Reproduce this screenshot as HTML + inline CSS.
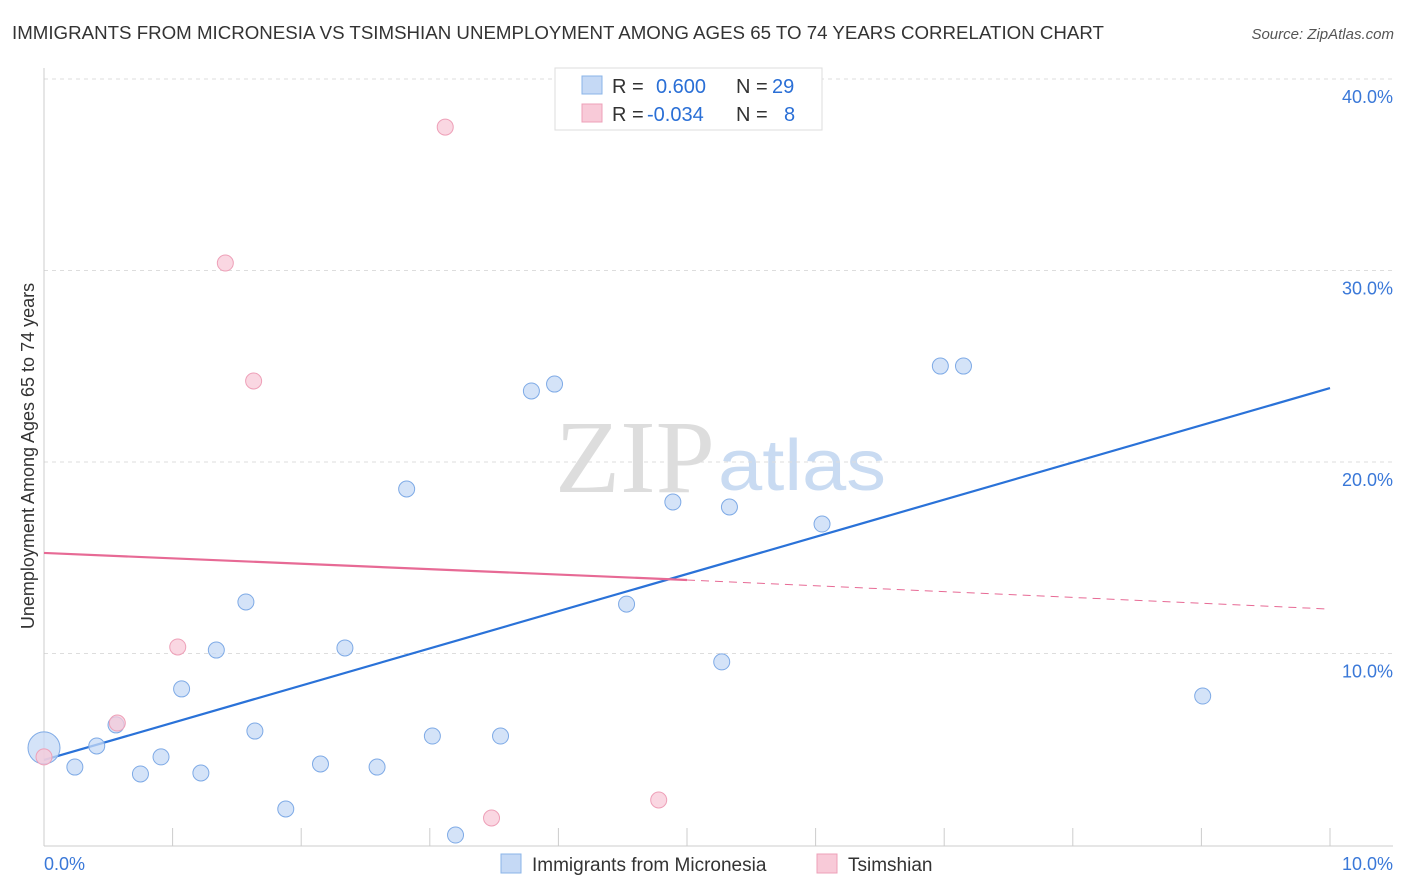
<!DOCTYPE html>
<html><head><meta charset="utf-8"><style>
body{margin:0;background:#fff;font-family:"Liberation Sans",sans-serif;}
svg{display:block}
</style></head><body>
<svg id="chart" width="1406" height="892">
<text x="12" y="39" font-size="18.5" fill="#333" textLength="1092" lengthAdjust="spacingAndGlyphs">IMMIGRANTS FROM MICRONESIA VS TSIMSHIAN UNEMPLOYMENT AMONG AGES 65 TO 74 YEARS CORRELATION CHART</text>
<text x="1394" y="39" font-size="15" fill="#555" font-style="italic" text-anchor="end">Source: ZipAtlas.com</text>
<text x="555" y="492" font-size="104" fill="#ddd" textLength="160" lengthAdjust="spacingAndGlyphs" font-family="Liberation Serif,serif">ZIP</text>
<text x="718" y="490" font-size="72" fill="#c9dbf2" textLength="168" lengthAdjust="spacingAndGlyphs">atlas</text>
<g id="grid"></g><g id="axes"></g><g id="lines"></g><g id="points"></g>
<text transform="translate(34,456) rotate(-90)" font-size="18" fill="#333" text-anchor="middle">Unemployment Among Ages 65 to 74 years</text>
<g>
<rect x="555" y="68" width="267" height="62" fill="#fff" stroke="#ddd"/>
<rect x="582" y="76" width="20" height="18" fill="#c5d9f5" stroke="#8ab4e8"/>
<rect x="582" y="104" width="20" height="18" fill="#f8cad8" stroke="#eea0b8"/>
<text x="612" y="93" font-size="20" fill="#333">R = <tspan x="656" fill="#2a6fd6">0.600</tspan><tspan x="736">N = </tspan><tspan x="772" fill="#2a6fd6">29</tspan></text>
<text x="612" y="121" font-size="20" fill="#333">R = <tspan x="647" fill="#2a6fd6">-0.034</tspan><tspan x="736">N = </tspan><tspan x="784" fill="#2a6fd6">8</tspan></text>
</g>
<g>
<rect x="501" y="854" width="20" height="19" fill="#c5d9f5" stroke="#8ab4e8"/>
<text x="532" y="871" font-size="19" fill="#333">Immigrants from Micronesia</text>
<rect x="817" y="854" width="20" height="19" fill="#f8cad8" stroke="#eea0b8"/>
<text x="848" y="871" font-size="19" fill="#333">Tsimshian</text>
</g>
</svg>
<script>
const blueX=[0,0.24,0.41,0.56,0.75,0.91,1.07,1.22,1.34,1.57,1.64,1.88,2.15,2.34,2.59,2.82,3.02,3.20,3.55,3.79,3.97,4.53,4.89,5.33,5.27,6.05,6.97,7.15,9.01];
const blueY=[5.07,4.07,5.17,6.27,3.71,4.60,8.15,3.76,10.18,12.69,5.95,1.88,4.23,10.29,4.07,18.59,5.69,0.52,5.69,23.71,24.07,12.58,17.91,17.65,9.56,16.76,25.01,25.01,7.78];
const pinkX=[0,0.57,1.04,1.41,1.63,3.12,3.48,4.78];
const pinkY=[4.60,6.37,10.34,30.39,24.23,37.49,1.41,2.35];
const blueLine=[[0,4.44],[10,23.86]];
const pinkLine=[[0,15.25],[5.0,13.84],[10,12.32]];
const yTicks=[10,20,30,40];
const xTickLabels=["0.0%","10.0%"];
const NS="http://www.w3.org/2000/svg";
const sx=v=>44+v*128.6, sy=v=>845-v*19.15;
function mk(tag,attrs,parent){const e=document.createElementNS(NS,tag);for(const k in attrs)e.setAttribute(k,attrs[k]);document.getElementById(parent).appendChild(e);return e;}
yTicks.forEach(t=>{
 const l=mk('line',{x1:44,x2:1393,y1:sy(t),y2:sy(t),stroke:'#ddd','stroke-dasharray':'4,4'},'grid');
 
 
 const tx=mk('text',{x:1393,y:sy(t)+24,'font-size':18,fill:'#3a78d8','text-anchor':'end'},'grid');
 tx.textContent=t.toFixed(1)+'%';
 
 
});
const ax=mk('line',{x1:44,x2:44,y1:68,y2:846,stroke:'#ccc'},'axes');


const bx=mk('line',{x1:44,x2:1393,y1:846,y2:846,stroke:'#ccc'},'axes');


for(let i=1;i<=10;i++){const t=mk('line',{x1:sx(i),x2:sx(i),y1:828,y2:846,stroke:'#ccc'},'axes');
 
 }
[[0,44,'start'],[10,1393,'end']].forEach((d,i)=>{const t=mk('text',{x:d[1],y:870,'font-size':18,fill:'#3a78d8','text-anchor':d[2]},'axes');t.textContent=xTickLabels[i];
 
 });
const bl=mk('line',{x1:sx(blueLine[0][0]),y1:sy(blueLine[0][1]),x2:sx(blueLine[1][0]),y2:sy(blueLine[1][1]),stroke:'#2a72d8','stroke-width':2.2},'lines');


const pl=mk('line',{x1:sx(pinkLine[0][0]),y1:sy(pinkLine[0][1]),x2:sx(pinkLine[1][0]),y2:sy(pinkLine[1][1]),stroke:'#e76a95','stroke-width':2.2},'lines');


const pd=mk('line',{x1:sx(pinkLine[1][0]),y1:sy(pinkLine[1][1]),x2:sx(pinkLine[2][0]),y2:sy(pinkLine[2][1]),stroke:'#e76a95','stroke-width':1,'stroke-dasharray':'8,6'},'lines');


blueX.forEach((x,i)=>{const c=mk('circle',{cx:sx(x),cy:sy(blueY[i]),r:i===0?16:8,fill:'#c5d9f5','fill-opacity':0.75,stroke:'#7eaae6','stroke-width':1},'points');
 
 });
pinkX.forEach((x,i)=>{const c=mk('circle',{cx:sx(x),cy:sy(pinkY[i]),r:8,fill:'#f8cad8','fill-opacity':0.75,stroke:'#eea0b8','stroke-width':1},'points');
 
 });
</script>
</body></html>
